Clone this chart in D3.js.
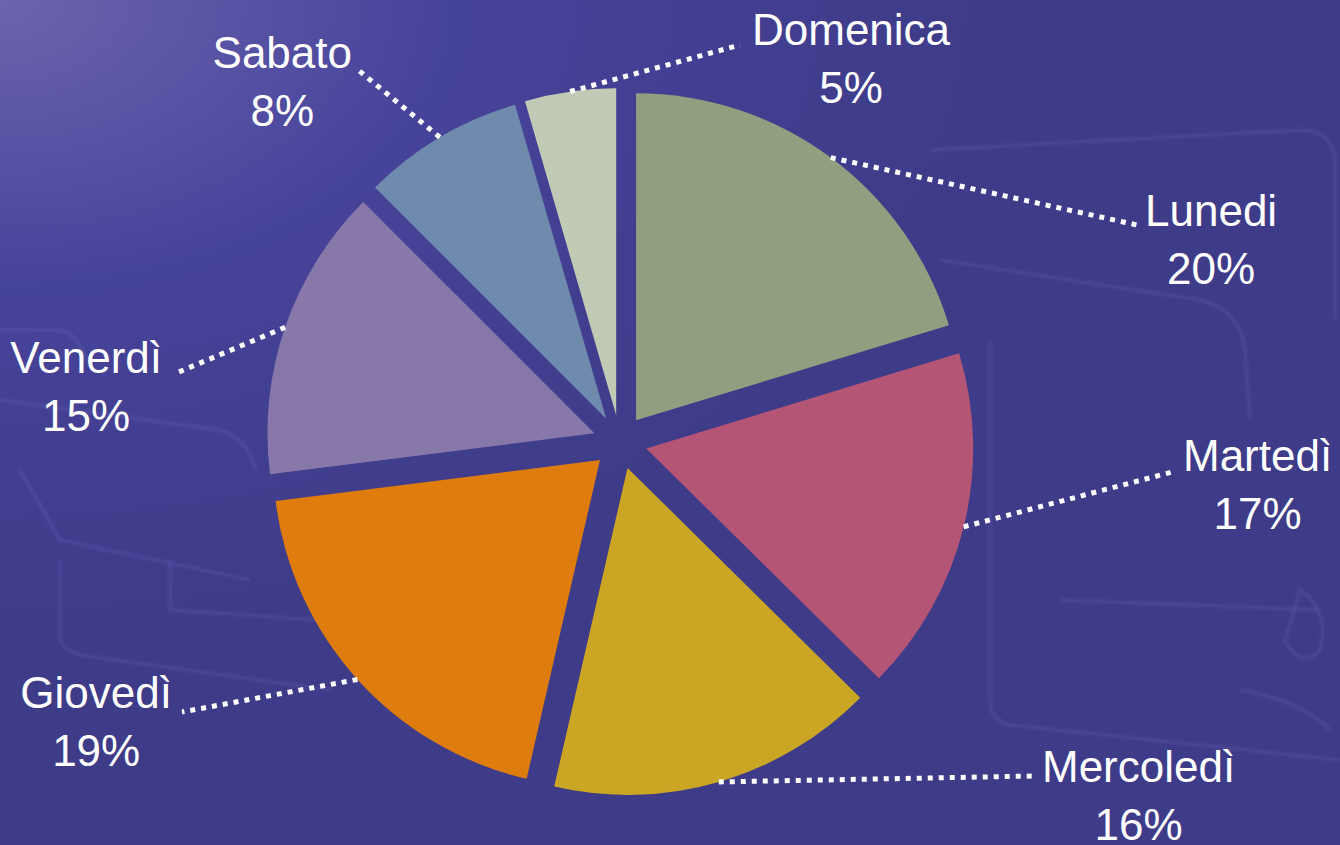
<!DOCTYPE html>
<html>
<head>
<meta charset="utf-8">
<script src="https://cdn.jsdelivr.net/npm/d3@7"></script>
<style>
    html, body { margin: 0; padding: 0; background: #3f3c8a; }
    svg { display: block; }
    .label { font-family: "Liberation Sans", Arial, sans-serif; fill: #ffffff; }
</style>
</head>
<body>
<svg id="chart"></svg>
<script>
// giorni della settimana, in ordine orario a partire dalle 12
const days = ["Lunedi", "Martedì", "Mercoledì", "Giovedì", "Venerdì", "Sabato", "Domenica"];
const shares = [20.3, 17.1, 16.2, 19.4, 14.5, 8.0, 4.5];
const colors = ["#919e7f", "#b55575", "#cba624", "#de7c0e", "#8878aa", "#6f8aac", "#c1cab5"];

// layout of the labels: end of leader line, text x, text baseline, text anchor
const labelLayout = [
    [1137, 225, 1145, 226, "start"],
    [1176, 471, 1183, 471, "start"],
    [1035, 776, 1042, 782, "start"],
    [182, 712, 172, 708, "end"],
    [174, 374, 162, 373, "end"],
    [357, 69, 352, 68, "end"],
    [740, 45, 752, 45, "start"]
];

const width = 1340, height = 845;
const cx = 620, cy = 442;
const radius = 327;
const explode = 27;
const lineGap = 58;

const svg = d3.select("#chart")
    .attr("width", width)
    .attr("height", height);

// background
const defs = svg.append("defs");
const grad = defs.append("radialGradient")
    .attr("id", "bg")
    .attr("cx", 0).attr("cy", 0).attr("r", 0.75)
    .attr("gradientUnits", "objectBoundingBox");
grad.append("stop").attr("offset", "0%").attr("stop-color", "#6b64ae");
grad.append("stop").attr("offset", "45%").attr("stop-color", "#46439a");
grad.append("stop").attr("offset", "100%").attr("stop-color", "#3e3b88");

defs.append("filter")
    .attr("id", "soft")
    .append("feGaussianBlur")
    .attr("stdDeviation", 1.5);

svg.append("rect")
    .attr("width", width)
    .attr("height", height)
    .attr("fill", "url(#bg)");

// faint sketch lines in the background
const sketch = svg.append("g")
    .attr("fill", "none")
    .attr("stroke", "#6c6ac0")
    .attr("stroke-opacity", 0.3)
    .attr("stroke-width", 3)
    .attr("filter", "url(#soft)");
[
    "M930,150 L1300,130 Q1335,130 1335,165 L1335,320",
    "M940,260 L1200,300 Q1240,310 1245,350 L1250,420",
    "M990,340 L990,700 Q990,720 1010,725 L1340,760",
    "M1060,600 L1320,610",
    "M1240,690 Q1300,700 1330,730",
    "M1300,590 Q1330,610 1320,650 Q1300,670 1285,640 Z",
    "M0,400 L220,430 Q250,440 255,470",
    "M20,470 L60,540 L250,580",
    "M60,560 L60,640 Q65,650 80,655 L330,690",
    "M0,330 L60,330 Q80,335 85,360",
    "M170,560 L170,610 L320,620"
].forEach(d => sketch.append("path").attr("d", d));

// pie
const pie = d3.pie()
    .value(d => d)
    .sort(null);

const arcs = pie(shares);

const arc = d3.arc()
    .innerRadius(0)
    .outerRadius(radius);

const chart = svg.append("g")
    .attr("transform", `translate(${cx},${cy})`);

function midAngle(d) {
    return (d.startAngle + d.endAngle) / 2;
}

function offset(d) {
    let a = midAngle(d);
    return [Math.sin(a) * explode, -Math.cos(a) * explode];
}

chart.selectAll("path.slice")
    .data(arcs)
    .join("path")
    .attr("class", "slice")
    .attr("d", arc)
    .attr("fill", (d, i) => colors[i])
    .attr("transform", d => `translate(${offset(d)})`);

// leader lines, from the middle of each outer arc to its label
chart.selectAll("line.leader")
    .data(arcs)
    .join("line")
    .attr("class", "leader")
    .attr("x1", d => offset(d)[0] + Math.sin(midAngle(d)) * radius)
    .attr("y1", d => offset(d)[1] - Math.cos(midAngle(d)) * radius)
    .attr("x2", (d, i) => labelLayout[i][0] - cx)
    .attr("y2", (d, i) => labelLayout[i][1] - cy)
    .attr("stroke", "#ffffff")
    .attr("stroke-width", 5)
    .attr("stroke-dasharray", "5,6");

// labels: name on first line, percent centred below
const fmt = d3.format(".0f");
arcs.forEach((d, i) => {
    let [, , tx, ty, side] = labelLayout[i];
    let name = svg.append("text")
        .attr("class", "label")
        .attr("x", tx)
        .attr("y", ty)
        .attr("font-size", 44)
        .attr("text-anchor", side)
        .text(days[i]);
    let w = name.node().getComputedTextLength();
    let mid = side === "start" ? tx + w / 2 : tx - w / 2;
    svg.append("text")
        .attr("class", "label")
        .attr("x", mid)
        .attr("y", ty + lineGap)
        .attr("font-size", 44)
        .attr("text-anchor", "middle")
        .text(fmt(d.data) + "%");
});
</script>
</body>
</html>
